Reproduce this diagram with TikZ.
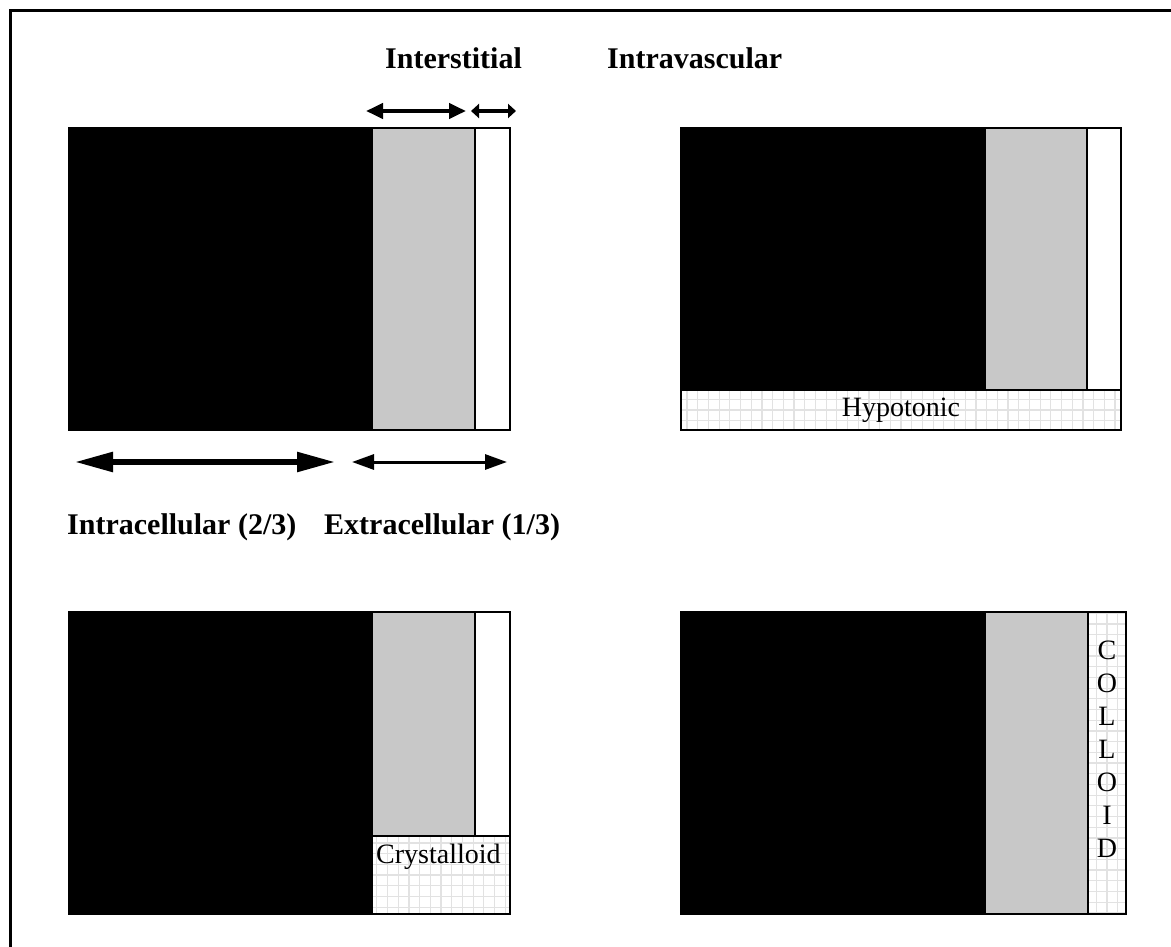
\documentclass[tikz,border=0pt]{standalone}
\usepackage{fontspec}
\setmainfont{Liberation Serif}
\usetikzlibrary{arrows.meta}
\definecolor{fluidgray}{RGB}{200,200,200}
\definecolor{gridgray}{RGB}{226,226,226}
\tikzset{
  compartment/.style={draw=black, line width=2.8pt, inner sep=0pt, outer sep=0pt, anchor=north west},
  cellbox/.style={compartment, fill=black},
  interbox/.style={compartment, fill=fluidgray},
  vascbox/.style={compartment, fill=white},
  infusebox/.style={compartment, fill=white,
    path picture={\draw[gridgray, line width=1.2pt]
      (path picture bounding box.south west) grid[step=10.7pt]
      (path picture bounding box.north east);}},
  infusetext/.style={font=\fontsize{28}{33}\selectfont, inner sep=0pt},
  heading/.style={font=\fontsize{30}{33}\selectfont\bfseries, inner sep=0pt},
  span/.style={draw=black, line width=#1},
}
\begin{document}
\begin{tikzpicture}[x=1pt, y=-1pt]
\useasboundingbox (0,0) rectangle (1171,947);
\fill[white] (0,0) rectangle (1171,947);

% frame
\draw[line width=3pt] (10,947) -- (10,11) -- (1171,11);

% normal distribution
\node[cellbox, minimum width=303, minimum height=302] (ic1) at (69,128) {};
\node[interbox, minimum width=103, minimum height=302] (is1) at (372,128) {};
\node[vascbox, minimum width=35, minimum height=302] (iv1) at (475,128) {};

% hypotonic fluid
\node[cellbox, minimum width=304, minimum height=262] (ic2) at (681,128) {};
\node[interbox, minimum width=102, minimum height=262] (is2) at (985,128) {};
\node[vascbox, minimum width=34, minimum height=262] (iv2) at (1087,128) {};
\node[infusebox, minimum width=440, minimum height=40] (hyp) at (681,390) {};
\node[infusetext] at (hyp.center) {Hypotonic};

% crystalloid
\node[cellbox, minimum width=303, minimum height=302] (ic3) at (69,612) {};
\node[interbox, minimum width=103, minimum height=224] (is3) at (372,612) {};
\node[vascbox, minimum width=35, minimum height=224] (iv3) at (475,612) {};
\node[infusebox, minimum width=138, minimum height=78] (cry) at (372,836) {};
\node[infusetext, anchor=north west] at ([xshift=4pt,yshift=-8pt]cry.north west) {Crystalloid};

% colloid
\node[cellbox, minimum width=304, minimum height=302] (ic4) at (681,612) {};
\node[interbox, minimum width=103, minimum height=302] (is4) at (985,612) {};
\node[infusebox, minimum width=38, minimum height=302] (col) at (1088,612) {};
\node[infusetext, align=center] at ([yshift=14pt]col.center) {C\\O\\L\\L\\O\\I\\D};

% labels
\node[heading, anchor=west] (tInter) at (385,58) {Interstitial};
\node[heading, anchor=west] (tIntra) at (607,58) {Intravascular};
\node[heading, anchor=west] (tCell) at (67,527) {Intracellular (2/3)};
\node[heading, anchor=west] (tExtra) at (324,527) {Extracellular (1/3)};

% dimension arrows
\coordinate (a1) at (366,111); \coordinate (b1) at (466,111);
\coordinate (a2) at (471,111); \coordinate (b2) at (516,111);
\coordinate (a3) at (75,462);  \coordinate (b3) at (335,462);
\coordinate (a4) at (352,462); \coordinate (b4) at (507,462);
\draw[span=4pt, {Triangle[length=17pt,width=15pt]}-{Triangle[length=17pt,width=15pt]}] (a1) -- (b1);
\draw[span=4pt, {Triangle[length=8pt,width=14pt]}-{Triangle[length=8pt,width=14pt]}] (a2) -- (b2);
\draw[span=5.5pt, {Triangle[length=38pt,width=19pt]}-{Triangle[length=38pt,width=19pt]}] (a3) -- (b3);
\draw[span=3pt, {Triangle[length=22pt,width=15pt]}-{Triangle[length=22pt,width=15pt]}] (a4) -- (b4);
\end{tikzpicture}
\end{document}
